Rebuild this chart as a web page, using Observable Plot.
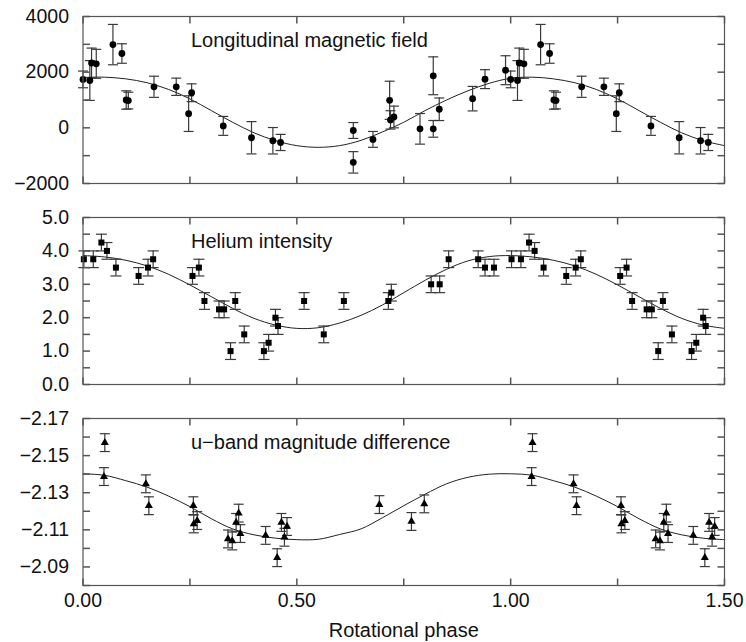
<!DOCTYPE html>
<html><head><meta charset="utf-8">
<script src="https://cdn.jsdelivr.net/npm/d3@7"></script>
<script src="https://cdn.jsdelivr.net/npm/@observablehq/plot@0.6"></script>
<style>
body{margin:0;background:#fff;}
#chart{width:746px;height:642px;}
#chart svg{display:block;}
</style></head><body><div id="chart"></div>
<script>
// ---------- data (phases in [0,1); phases <= 0.5 are repeated at phase+1 as in the original) ----------
const magPhase = [0.000, 0.016, 0.020, 0.031, 0.070, 0.091, 0.101, 0.106, 0.166, 0.218, 0.247, 0.254, 0.328, 0.394, 0.444, 0.462, 0.632, 0.632, 0.678, 0.717, 0.719, 0.727, 0.788, 0.819, 0.819, 0.833, 0.911, 0.940, 0.988];
const magValue = [1740, 1700, 2330, 2300, 2990, 2670, 1000, 980, 1475, 1475, 510, 1260, 70, -357, -464, -525, -95, -1240, -415, 990, 285, 390, -36, 1870, -36, 667, 1048, 1750, 2070];
const magErr   = [300, 715, 535, 520, 725, 350, 330, 300, 380, 310, 640, 320, 340, 580, 475, 290, 285, 385, 285, 685, 330, 390, 550, 680, 300, 405, 440, 340, 520];

const heliumPhase = [0.002, 0.024, 0.043, 0.056, 0.077, 0.130, 0.152, 0.164, 0.256, 0.271, 0.284, 0.318, 0.330, 0.345, 0.356, 0.377, 0.423, 0.434, 0.450, 0.456, 0.517, 0.563, 0.610, 0.714, 0.721, 0.814, 0.834, 0.855, 0.924, 0.940, 0.961];
const heliumValue = [3.75, 3.75, 4.25, 4.0, 3.5, 3.25, 3.5, 3.75, 3.25, 3.5, 2.5, 2.25, 2.25, 1.0, 2.5, 1.5, 1.0, 1.25, 2.0, 1.75, 2.5, 1.5, 2.5, 2.5, 2.75, 3.0, 3.0, 3.75, 3.75, 3.5, 3.5];
const heliumErr   = [0.25, 0.25, 0.25, 0.25, 0.25, 0.25, 0.25, 0.25, 0.25, 0.25, 0.25, 0.25, 0.25, 0.25, 0.25, 0.25, 0.25, 0.25, 0.25, 0.25, 0.25, 0.25, 0.25, 0.25, 0.25, 0.25, 0.25, 0.25, 0.25, 0.25, 0.25];

const uPhase = [0.049, 0.051, 0.147, 0.154, 0.258, 0.259, 0.267, 0.339, 0.349, 0.358, 0.364, 0.368, 0.427, 0.454, 0.464, 0.471, 0.477, 0.693, 0.768, 0.798];
const uValue = [-2.1387, -2.157, -2.1348, -2.123, -2.123, -2.1132, -2.115, -2.1051, -2.104, -2.114, -2.119, -2.108, -2.107, -2.095, -2.114, -2.106, -2.1118, -2.1236, -2.1145, -2.124];
const uErr   = [0.0048, 0.0048, 0.0048, 0.0048, 0.0048, 0.0048, 0.0048, 0.0048, 0.0048, 0.0048, 0.0048, 0.0048, 0.0048, 0.0048, 0.0048, 0.0048, 0.0048, 0.0048, 0.0048, 0.0048];

// fitted curves
const curvePhase  = [0, 0.05, 0.10, 0.15, 0.20, 0.25, 0.30, 0.35, 0.40, 0.45, 0.50, 0.55, 0.60, 0.65, 0.70, 0.75, 0.80, 0.85, 0.90, 0.95, 1.00];
const magCurve    = [1810, 1820, 1760, 1620, 1380, 1040, 620, 200, -180, -460, -640, -700, -640, -450, -150, 200, 620, 1000, 1330, 1600, 1780];
const heliumCurve = [3.86, 3.82, 3.72, 3.55, 3.30, 2.98, 2.63, 2.28, 1.98, 1.78, 1.68, 1.70, 1.84, 2.07, 2.38, 2.75, 3.12, 3.45, 3.70, 3.83, 3.86];
const uCurve      = [-2.1402, -2.1394, -2.1365, -2.1330, -2.1282, -2.1225, -2.1160, -2.1105, -2.1073, -2.1055, -2.1047, -2.1049, -2.1075, -2.1105, -2.1165, -2.1230, -2.1292, -2.1348, -2.1383, -2.1400, -2.1402];

// ticks
const xTicks  = [0, 0.25, 0.5, 0.75, 1.0, 1.25, 1.5];
const xLabels = [0, 0.5, 1.0, 1.5];
const magTicks  = [-2000, -1000, 0, 1000, 2000, 3000, 4000];
const magLabels = [-2000, 0, 2000, 4000];
const heTicks  = [0, 0.5, 1, 1.5, 2, 2.5, 3, 3.5, 4, 4.5, 5];
const heLabels = [0, 1, 2, 3, 4, 5];
const uTicks  = [-2.17, -2.16, -2.15, -2.14, -2.13, -2.12, -2.11, -2.10, -2.09, -2.08];
const uLabels = [-2.17, -2.15, -2.13, -2.11, -2.09];

// ---------- helpers ----------
function fold(phases, values, errs) {
  const rows = phases.map((p, i) => ({phase: p, value: values[i], err: errs ? errs[i] : 0}));
  return rows.concat(rows.filter(d => d.phase <= 0.5).map(d => ({...d, phase: d.phase + 1})));
}
function foldCurve(phases, values) {
  const rows = phases.map((p, i) => ({phase: p, value: values[i]}));
  return rows.concat(rows.filter(d => d.phase > 0 && d.phase <= 0.5).map(d => ({...d, phase: d.phase + 1})));
}
const minus = s => s.replace("-", "\u2212");
const TL = 7;
const sym = (x1, y1, x2, y2) => ({draw(ctx) { ctx.moveTo(x1, y1); ctx.lineTo(x2, y2); }});
const tickRight = sym(0, 0, TL, 0), tickLeft = sym(0, 0, -TL, 0);
const tickDown = sym(0, 0, 0, TL), tickUp = sym(0, 0, 0, -TL);
const cap = w => sym(-w, 0, w, 0);

const FONT = "'Liberation Sans', Arial, Helvetica, sans-serif";
const FRAME = "#555";
const INK = "#111";

function panel(o) {
  const marks = [
    Plot.line(o.curve, {x: "phase", y: "value", curve: "catmull-rom", stroke: "#222", strokeWidth: 1}),
    Plot.ruleX(o.points, {x: "phase", y1: d => d.value - d.err, y2: d => d.value + d.err, stroke: "#3a3a3a", strokeWidth: 1.2}),
    Plot.dot(o.points, {x: "phase", y: d => d.value - d.err, symbol: cap(o.capW), stroke: "#3a3a3a", strokeWidth: 1.2, fill: "none"}),
    Plot.dot(o.points, {x: "phase", y: d => d.value + d.err, symbol: cap(o.capW), stroke: "#3a3a3a", strokeWidth: 1.2, fill: "none"}),
    Plot.dot(o.points, {x: "phase", y: "value", symbol: o.symbol, r: o.r, fill: "#000", stroke: "none"}),
    Plot.frame({stroke: FRAME, strokeWidth: 1.2}),
    Plot.dot(o.yTicks, {y: d => d, frameAnchor: "left", symbol: tickRight, stroke: FRAME, fill: "none"}),
    Plot.dot(o.yTicks, {y: d => d, frameAnchor: "right", symbol: tickLeft, stroke: FRAME, fill: "none"}),
    Plot.dot(xTicks, {x: d => d, frameAnchor: "top", symbol: tickDown, stroke: FRAME, fill: "none"}),
    Plot.dot(xTicks, {x: d => d, frameAnchor: "bottom", symbol: tickUp, stroke: FRAME, fill: "none"}),
    Plot.axisY({ticks: o.yLabels, tickSize: 0, tickPadding: 14, tickFormat: o.yFormat, fill: INK, label: null}),
    Plot.text([o.title], {frameAnchor: "top-left", dx: 108, dy: 30, lineAnchor: "bottom", textAnchor: "start", fontSize: 20, fill: INK})
  ];
  if (o.xAxis) {
    marks.push(Plot.axisX({ticks: xLabels, tickSize: 0, tickPadding: 8, tickFormat: d3.format(".2f"), fill: INK, label: null}));
    marks.push(Plot.text(["Rotational phase"], {frameAnchor: "bottom", dy: 51, lineAnchor: "bottom", textAnchor: "middle", fontSize: 20, fill: INK}));
  }
  return Plot.plot({
    width: 746,
    height: o.height,
    marginLeft: 82.5,
    marginRight: 22,
    marginTop: o.marginTop,
    marginBottom: o.marginBottom,
    style: {fontFamily: FONT, fontSize: "19.5px", background: "white", overflow: "visible"},
    x: {domain: [0, 1.5], axis: o.xAxis ? undefined : null, label: null},
    y: {domain: o.yDomain, reverse: !!o.yReverse, label: null},
    marks
  });
}

const chart = document.getElementById("chart");
chart.append(panel({
  height: 200, marginTop: 16, marginBottom: 17,
  yDomain: [-2000, 4000], yTicks: magTicks, yLabels: magLabels, yFormat: d => minus(String(d)),
  points: fold(magPhase, magValue, magErr), curve: foldCurve(curvePhase, magCurve),
  symbol: "circle", r: 3.4, capW: 5, title: "Longitudinal magnetic field"
}));
chart.append(panel({
  height: 201, marginTop: 17, marginBottom: 17,
  yDomain: [0, 5], yTicks: heTicks, yLabels: heLabels, yFormat: d3.format(".1f"),
  points: fold(heliumPhase, heliumValue, heliumErr), curve: foldCurve(curvePhase, heliumCurve),
  symbol: "square", r: 3.4, capW: 5.5, title: "Helium intensity"
}));
chart.append(panel({
  height: 241, marginTop: 17, marginBottom: 57,
  yDomain: [-2.17, -2.08], yReverse: true, yTicks: uTicks, yLabels: uLabels, yFormat: d => minus(d3.format(".2f")(d)),
  points: fold(uPhase, uValue, uErr), curve: foldCurve(curvePhase, uCurve),
  symbol: "triangle", r: 3, capW: 5, title: "u\u2212band magnitude difference", xAxis: true
}));
</script></body></html>
